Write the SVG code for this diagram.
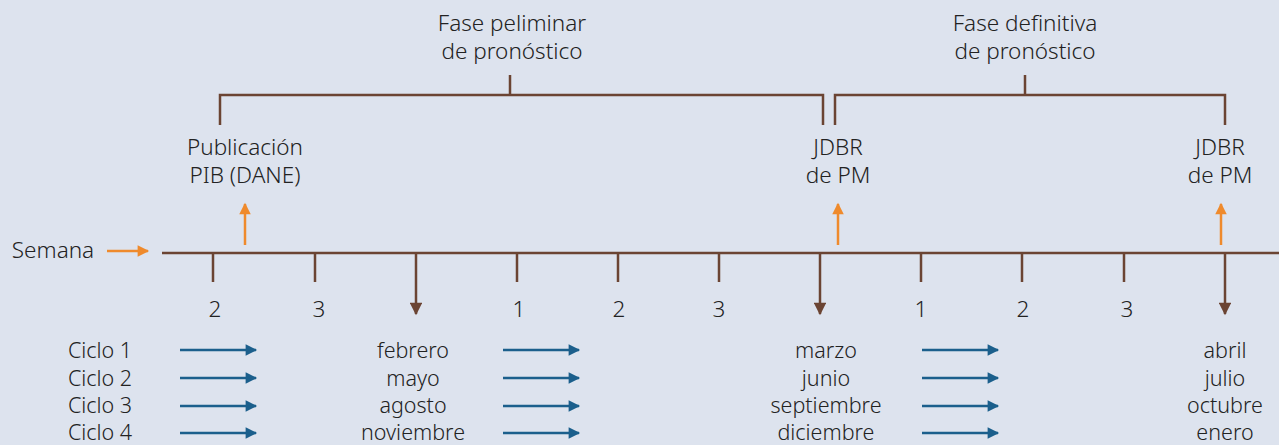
<svg xmlns="http://www.w3.org/2000/svg" width="1279" height="445" viewBox="0 0 1279 445">
<defs>
<style>
text{font-family:"Noto Sans","Open Sans","Liberation Sans",sans-serif;font-size:22.5px;fill:#222;text-anchor:middle;font-weight:300}
.row text{font-size:21.5px}
.br{stroke:#6b4433;stroke-width:2.5;fill:none}
.or{stroke:#ef8a2c;stroke-width:2.5;fill:none}
.bl{stroke:#1b5f8c;stroke-width:2.5;fill:none}
</style>
<marker id="ah-br" viewBox="0 0 10 10" refX="9" refY="5" markerWidth="5.6" markerHeight="5" orient="auto" markerUnits="strokeWidth"><path d="M0,0 L10,5 L0,10 z" fill="#6b4433"/></marker>
<marker id="ah-or" viewBox="0 0 10 10" refX="9" refY="5" markerWidth="5.2" markerHeight="4.6" orient="auto" markerUnits="strokeWidth"><path d="M0,0 L10,5 L0,10 z" fill="#ef8a2c"/></marker>
<marker id="ah-bl" viewBox="0 0 10 10" refX="9" refY="5" markerWidth="5.6" markerHeight="4.6" orient="auto" markerUnits="strokeWidth"><path d="M0,0 L10,5 L0,10 z" fill="#1b5f8c"/></marker>
</defs>
<rect width="1279" height="445" fill="#dde3ee"/>

<g id="connectors">
<path class="br" d="M220,125 V95 H823 V125 M510,95 V75"/>
<path class="br" d="M835,125 V95 H1225 V125 M1025,95 V75"/>
<line class="br" x1="162" y1="253" x2="1279" y2="253"/>
<path class="br" d="M213,253 V282 M315,253 V282 M517,253 V282 M618,253 V282 M719,253 V282 M921,253 V282 M1022,253 V282 M1124,253 V282"/>
<line class="br" x1="416" y1="253" x2="416" y2="314" marker-end="url(#ah-br)"/>
<line class="br" x1="820" y1="253" x2="820" y2="314" marker-end="url(#ah-br)"/>
<line class="br" x1="1225" y1="253" x2="1225" y2="314" marker-end="url(#ah-br)"/>
<line class="or" x1="107" y1="251" x2="148" y2="251" marker-end="url(#ah-or)"/>
<line class="or" x1="245" y1="245" x2="245" y2="204" marker-end="url(#ah-or)"/>
<line class="or" x1="838" y1="245" x2="838" y2="204" marker-end="url(#ah-or)"/>
<line class="or" x1="1221" y1="245" x2="1221" y2="204" marker-end="url(#ah-or)"/>
<g class="bl">
<line x1="180" y1="350" x2="256" y2="350" marker-end="url(#ah-bl)"/>
<line x1="180" y1="378" x2="256" y2="378" marker-end="url(#ah-bl)"/>
<line x1="180" y1="406" x2="256" y2="406" marker-end="url(#ah-bl)"/>
<line x1="180" y1="433" x2="256" y2="433" marker-end="url(#ah-bl)"/>
<line x1="503" y1="350" x2="579" y2="350" marker-end="url(#ah-bl)"/>
<line x1="503" y1="378" x2="579" y2="378" marker-end="url(#ah-bl)"/>
<line x1="503" y1="406" x2="579" y2="406" marker-end="url(#ah-bl)"/>
<line x1="503" y1="433" x2="579" y2="433" marker-end="url(#ah-bl)"/>
<line x1="922" y1="350" x2="998" y2="350" marker-end="url(#ah-bl)"/>
<line x1="922" y1="378" x2="998" y2="378" marker-end="url(#ah-bl)"/>
<line x1="922" y1="406" x2="998" y2="406" marker-end="url(#ah-bl)"/>
<line x1="922" y1="433" x2="998" y2="433" marker-end="url(#ah-bl)"/>
</g>
</g>

<g id="fase-preliminar"><text x="512" y="31">Fase peliminar</text><text x="512" y="59">de pronóstico</text></g>
<g id="fase-definitiva"><text x="1025" y="31">Fase definitiva</text><text x="1025" y="59">de pronóstico</text></g>
<g id="publicacion"><text x="245" y="155">Publicación</text><text x="245" y="183">PIB (DANE)</text></g>
<g id="jdbr1"><text x="838" y="155">JDBR</text><text x="838" y="183">de PM</text></g>
<g id="jdbr2"><text x="1220" y="155">JDBR</text><text x="1220" y="183">de PM</text></g>
<g id="semana"><text x="53" y="258">Semana</text></g>
<g id="ticks">
<text x="215" y="317">2</text><text x="319" y="317">3</text><text x="519" y="317">1</text><text x="619" y="317">2</text><text x="719" y="317">3</text><text x="921" y="317">1</text><text x="1023" y="317">2</text><text x="1127" y="317">3</text>
</g>
<g id="ciclos" class="row"><text x="100" y="358">Ciclo 1</text><text x="100" y="386">Ciclo 2</text><text x="100" y="413">Ciclo 3</text><text x="100" y="440">Ciclo 4</text></g>
<g id="col1" class="row"><text x="413" y="358">febrero</text><text x="413" y="386">mayo</text><text x="413" y="413">agosto</text><text x="413" y="440">noviembre</text></g>
<g id="col2" class="row"><text x="826" y="358">marzo</text><text x="826" y="386">junio</text><text x="826" y="413">septiembre</text><text x="826" y="440">diciembre</text></g>
<g id="col3" class="row"><text x="1225" y="358">abril</text><text x="1225" y="386">julio</text><text x="1225" y="413">octubre</text><text x="1225" y="440">enero</text></g>
</svg>
